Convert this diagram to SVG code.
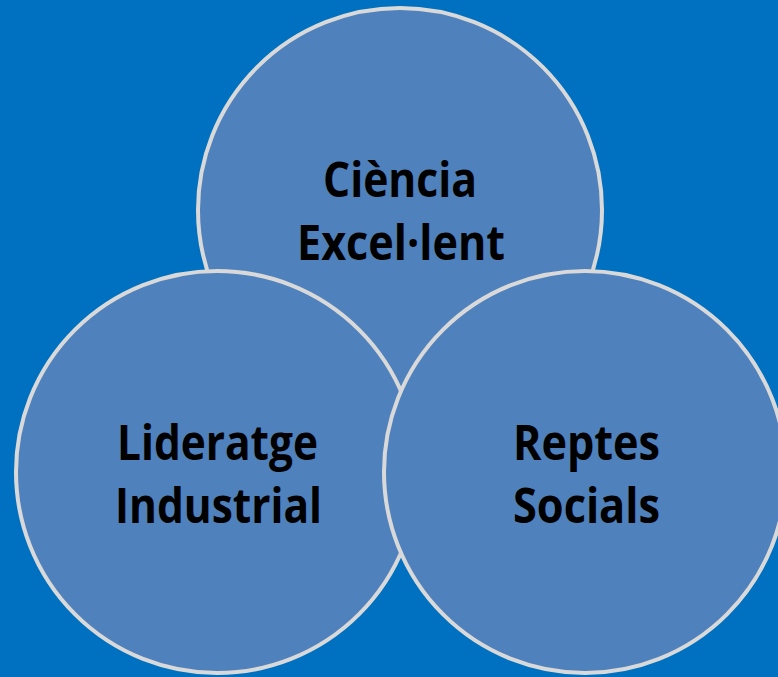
<svg xmlns="http://www.w3.org/2000/svg" width="778" height="677" viewBox="0 0 778 677">
<style>
.c{fill:#4F81BD;stroke:#D9D9D9;stroke-width:4}
.t{font-family:"Open Sans","Noto Sans","Liberation Sans",sans-serif;font-weight:bold;font-size:48px;fill:#000;text-anchor:middle}
</style>
<rect width="778" height="677" fill="#0070C0"/>
<g id="ciencia">
<circle class="c" cx="400" cy="210" r="202"/>
<text class="t" x="400" y="197" textLength="154" lengthAdjust="spacingAndGlyphs">Ciència</text>
<text class="t" x="401" y="260" textLength="208" lengthAdjust="spacingAndGlyphs">Excel·lent</text>
</g>
<g id="lideratge">
<circle class="c" cx="217" cy="472" r="201"/>
<text class="t" x="217.5" y="460" textLength="201" lengthAdjust="spacingAndGlyphs">Lideratge</text>
<text class="t" x="218.5" y="523" textLength="207" lengthAdjust="spacingAndGlyphs">Industrial</text>
</g>
<g id="reptes">
<circle class="c" cx="585" cy="472" r="201"/>
<text class="t" x="586.5" y="460" textLength="147" lengthAdjust="spacingAndGlyphs">Reptes</text>
<text class="t" x="586.5" y="523" textLength="147" lengthAdjust="spacingAndGlyphs">Socials</text>
</g>
<g id="connectors"/>
</svg>
